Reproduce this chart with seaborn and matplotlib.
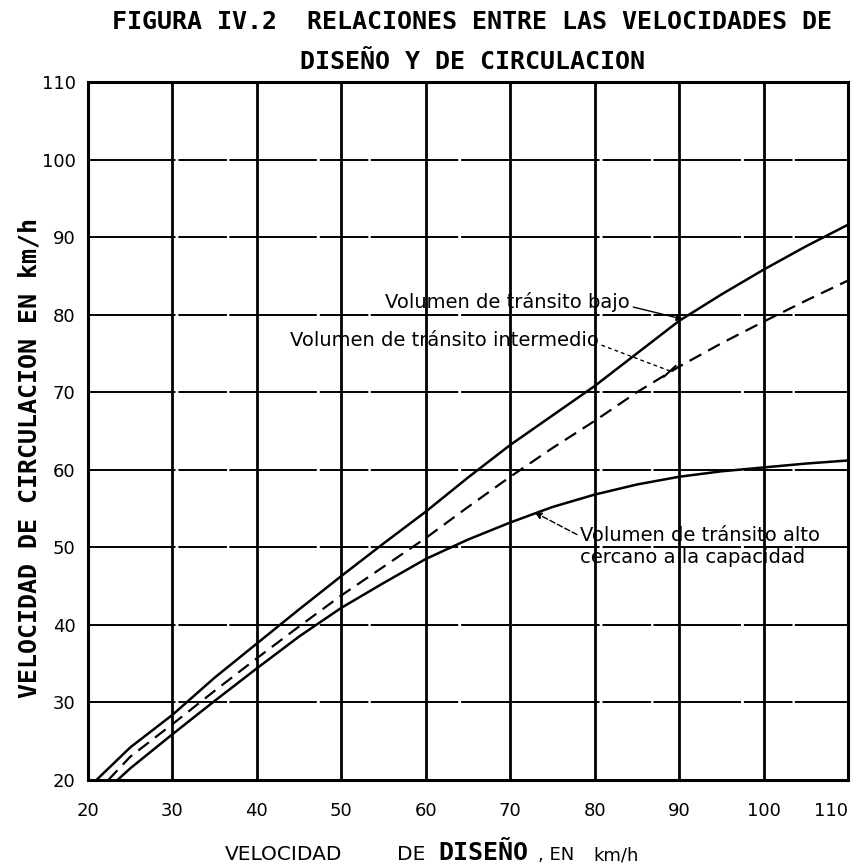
import matplotlib
matplotlib.use("Agg")
import matplotlib.pyplot as plt
import seaborn as sns
import pandas as pd

# ---- data ----
x_bajo = [21, 25, 30, 35, 40, 45, 50, 55, 60, 65, 70, 75, 80, 85, 90, 95, 100, 105, 110]
y_bajo = [20, 24.2, 28.4, 33.2, 37.6, 42, 46.3, 50.5, 54.6, 59, 63.2, 67, 70.8, 75, 79.2, 82.6, 85.8, 88.8, 91.6]

x_inter = [22.4, 25, 30, 35, 40, 45, 50, 55, 60, 65, 70, 75, 80, 85, 90, 95, 100, 105, 110]
y_inter = [20, 23, 27.2, 31.5, 35.7, 39.8, 43.8, 47.5, 51.2, 55.2, 59.1, 62.8, 66.3, 70, 73.3, 76.3, 79.1, 81.8, 84.4]

x_alto = [23.5, 25, 30, 35, 40, 45, 50, 55, 60, 65, 70, 75, 80, 85, 90, 95, 100, 105, 110]
y_alto = [20, 21.5, 25.9, 30.2, 34.4, 38.5, 42.2, 45.4, 48.5, 51, 53.2, 55.2, 56.8, 58.1, 59.1, 59.8, 60.3, 60.8, 61.2]

x_ticks = [20, 30, 40, 50, 60, 70, 80, 90, 100, 110]
y_ticks = [20, 30, 40, 50, 60, 70, 80, 90, 100, 110]

title_lines = ["FIGURA IV.2  RELACIONES ENTRE LAS VELOCIDADES DE", "DISEÑO Y DE CIRCULACION"]
ylabel = "VELOCIDAD DE CIRCULACION EN km/h"
label_bajo = "Volumen de tránsito bajo"
label_inter = "Volumen de tránsito intermedio"
label_alto = "Volumen de tránsito alto\ncercano a la capacidad"

df_bajo = pd.DataFrame({"diseno": x_bajo, "circ": y_bajo})
df_inter = pd.DataFrame({"diseno": x_inter, "circ": y_inter})
df_alto = pd.DataFrame({"diseno": x_alto, "circ": y_alto})

sns.set_style("white")
plt.rcParams["font.family"] = ["DejaVu Sans"]
plt.rcParams["text.color"] = "black"
plt.rcParams["xtick.color"] = "black"
plt.rcParams["ytick.color"] = "black"
plt.rcParams["axes.labelcolor"] = "black"

fig = plt.figure(figsize=(8.6, 8.65), dpi=100)
ax = fig.add_axes([88 / 860, 1 - 780 / 865, (848 - 88) / 860, (780 - 82) / 865])

sns.lineplot(data=df_bajo, x="diseno", y="circ", ax=ax, color="black", lw=1.8, sort=False)
sns.lineplot(data=df_inter, x="diseno", y="circ", ax=ax, color="black", lw=1.6, sort=False,
             linestyle=(0, (6, 3.5)))
sns.lineplot(data=df_alto, x="diseno", y="circ", ax=ax, color="black", lw=1.8, sort=False)

ax.set_xlim(20, 110)
ax.set_ylim(20, 110)
ax.set_xticks(x_ticks)
ax.set_yticks(y_ticks)
ax.set_xticklabels([str(v) for v in x_ticks], fontsize=13)
ax.set_yticklabels([str(v) for v in y_ticks], fontsize=13)
ax.get_xticklabels()[-1].set_horizontalalignment("right")
ax.tick_params(axis="both", length=0)
ax.tick_params(axis="x", pad=16)
ax.tick_params(axis="y", pad=9)
ax.set_xlabel("")
ax.set_ylabel("")

ax.xaxis.grid(True, color="black", lw=2.0)
ax.yaxis.grid(True, color="black", lw=1.4, linestyle=(0, (45, 1.5, 25, 1.2)))
ax.set_axisbelow(True)
for s in ax.spines.values():
    s.set_visible(True)
    s.set_color("black")
    s.set_linewidth(2.2)

# annotations
fs_ann = 14
ax.annotate(label_bajo, xy=(90.5, 79.4), xytext=(55.2, 81.6), fontsize=fs_ann,
            va="center", ha="left",
            arrowprops=dict(arrowstyle="-|>", color="black", lw=1.0, mutation_scale=10,
                            shrinkA=0, shrinkB=0, relpos=(1.0, 0.3)))
ax.annotate(label_inter, xy=(89.0, 72.7), xytext=(43.9, 76.7), fontsize=fs_ann,
            va="center", ha="left",
            arrowprops=dict(arrowstyle="-", color="black", lw=1.0, linestyle=(0, (2, 3)),
                            shrinkA=0, shrinkB=0, relpos=(1.0, 0.3)))
ax.plot([88.2, 89.6], [72.0, 73.4], color="black", lw=1.5)
ax.annotate(label_alto, xy=(72.9, 54.5), xytext=(78.3, 50.1), fontsize=fs_ann,
            va="center", ha="left", linespacing=1.2,
            arrowprops=dict(arrowstyle="-|>", color="black", lw=1.0, linestyle=(0, (4, 2)),
                            mutation_scale=10, shrinkA=0, shrinkB=0,
                            relpos=(0.0, 0.75)))

# titles and axis labels
mono = "DejaVu Sans Mono"
fig.text(472 / 860, 1 - 22 / 865, title_lines[0], ha="center", va="center",
         fontsize=18, fontweight="bold", family=mono)
fig.text(472 / 860, 1 - 62 / 865, title_lines[1], ha="center", va="center",
         fontsize=18, fontweight="bold", family=mono)
fig.text(30 / 860, 1 - 458 / 865, ylabel, rotation=90, ha="center", va="center",
         fontsize=18, fontweight="bold", family=mono)

fig.text(225 / 860, 1 - 855 / 865, "VELOCIDAD", ha="left", va="center", fontsize=14.5)
fig.text(397 / 860, 1 - 855 / 865, "DE", ha="left", va="center", fontsize=14.5)
fig.text(438 / 860, 1 - 853 / 865, "DISEÑO", ha="left", va="center", fontsize=18,
         fontweight="bold", family=mono)
fig.text(538 / 860, 1 - 855 / 865, ", EN", ha="left", va="center", fontsize=13)
fig.text(593 / 860, 1 - 855 / 865, "km/h", ha="left", va="center", fontsize=13)

fig.savefig("out.png", dpi=100, facecolor="white")
